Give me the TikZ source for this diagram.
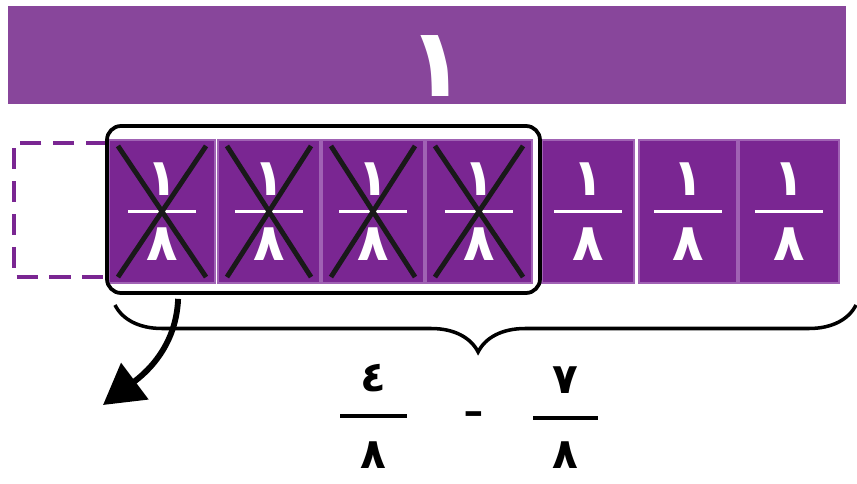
\documentclass[tikz,border=0pt]{standalone}
\usepackage{fontspec}
\usetikzlibrary{positioning,arrows.meta,decorations.pathreplacing,calc}
\newfontfamily\arabicfont[Script=Arabic]{DejaVu Sans}
\TeXXeTstate=1
\definecolor{barpurple}{RGB}{136,70,155}
\definecolor{tilepurple}{RGB}{122,38,146}
\definecolor{tileedge}{RGB}{160,98,180}

\begin{document}
\begin{tikzpicture}[x=0.03cm, y=-0.03cm,
  tilebox/.style={draw=tileedge, line width=1.8pt, fill=tilepurple, minimum height=4.29cm, inner sep=0pt},
  tiledigit/.style={text=white, font=\arabicfont\bfseries\fontsize{44}{44}\selectfont, inner sep=0pt},
  sumdigit/.style={text=black, font=\arabicfont\bfseries\fontsize{36}{36}\selectfont, inner sep=0pt},
  fracline/.style={line width=2.6pt},
  crossline/.style={line width=4.2pt, black!90},
  groupbox/.style={draw, line width=3.2pt, rounded corners=12pt, minimum width=12.99cm, minimum height=5.01cm, inner sep=0pt},
  ghostbox/.style={draw=tilepurple, line width=3.4pt, dash pattern=on 18pt off 10pt},
  bendarrow/.style={line width=5pt, -{Triangle[length=34pt,width=38pt]}}]
  \useasboundingbox (0,0) rectangle (857,484);

  % the whole
  \node[fill=barpurple, minimum width=25.14cm, minimum height=2.94cm, inner sep=0pt] (whole) at (427,55) {};
  \node[text=white, font=\arabicfont\bfseries\fontsize{82}{82}\selectfont, inner sep=0pt] (one) at (437,66) {\beginR ١\endR};

  % the missing eighth
  \draw[ghostbox] (107,143) -- (14,143) -- (14,277) -- (107,277);

  % eighths
  \foreach \cx/\w [count=\i] in {162/106, 269/102, 373/102, 479/106, 588/92, 688/98, 789/100} {
    \node[tilebox, minimum width=\w*0.03cm] (t\i) at (\cx,211.5) {};
    \node[tiledigit] (n\i) at ($(t\i.center)+(0,-32)$) {\beginR ١\endR};
    \node[tiledigit] (d\i) at ($(t\i.center)+(0,33)$) {\beginR ٨\endR};
    \draw[fracline, white] ($(t\i.center)+(-34,0)$) -- ++(68,0);
  }
  %
  \foreach \i in {1,...,4} {
    \draw[crossline] ($(t\i.north west)+(10,7)$) -- ($(t\i.south east)+(-10,-7)$);
    \draw[crossline] ($(t\i.north east)+(-10,7)$) -- ($(t\i.south west)+(10,-7)$);
  }

  % taken away
  \node[groupbox] (taken) at (323.5,209.5) {};
  \coordinate (tip) at (103,405);
  \draw[bendarrow] ($(taken.south west)+(73,4)$) .. controls +(-2,50) and +(40,-30) .. (tip);

  % brace
  \coordinate (bl) at (115,305);
  \coordinate (br) at (856,305);
  \draw[line width=3pt, decorate, decoration={brace, mirror, amplitude=1.41cm, aspect=0.49}] (bl) -- (br);

  % difference
  \node[sumdigit] (fn) at (373,378) {\beginR ٤\endR};
  \node[sumdigit] (fd) at (373,455) {\beginR ٨\endR};
  \draw[fracline] (340,416) -- (407,416);
  \node[font=\bfseries\fontsize{44}{44}\selectfont, inner sep=0pt] (minus) at (475,419) {-};
  \node[sumdigit] (sn) at (565,380) {\beginR ٧\endR};
  \node[sumdigit] (sd) at (565,455) {\beginR ٨\endR};
  \draw[fracline] (533,418) -- (598,418);
\end{tikzpicture}
\end{document}
